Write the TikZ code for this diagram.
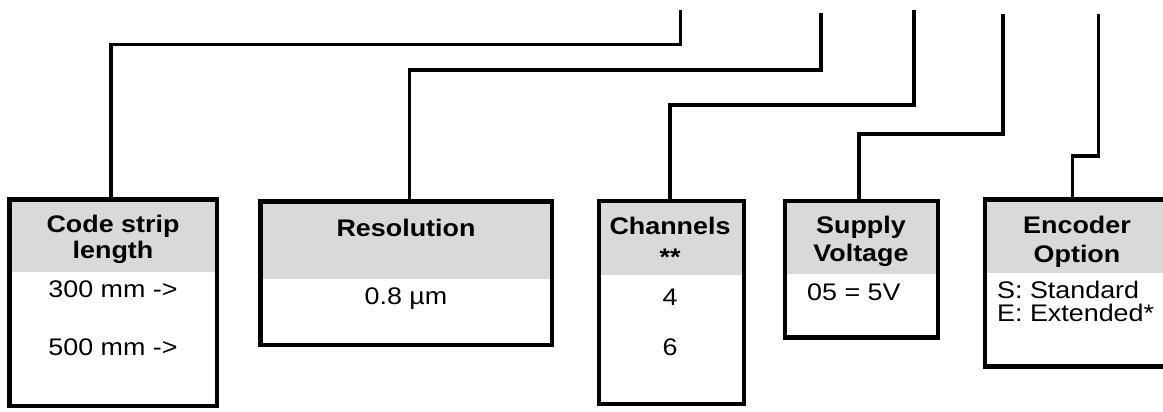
\documentclass[tikz,border=0pt]{standalone}
\usepackage{fontspec}
\setmainfont[FakeStretch=1.12]{Liberation Sans}
\usetikzlibrary{positioning}
\definecolor{headgray}{RGB}{217,217,217}
\tikzset{
	box/.style={draw, line width=4.5pt, inner sep=0pt,
		path picture={\fill[headgray] ([xshift=2.25pt,yshift=-2.25pt]path picture bounding box.north west) rectangle ([xshift=-2.25pt,yshift=-#1]path picture bounding box.north east);}},
	head/.style={font=\fontsize{24}{27}\selectfont\bfseries, inner sep=0pt, anchor=base},
	entry/.style={font=\fontsize{24}{27}\selectfont, inner sep=0pt, anchor=base},
	wire/.style={line width=3.6pt}
}
\begin{document}
\begin{tikzpicture}[x=1pt, y=-1pt]
	\useasboundingbox (0,0) rectangle (1163,412);
	% the five option boxes
	\node[box=72.5, minimum width=207.5, minimum height=206.5] (strip) at (113.25,302.75) {};
	\node[box=77.5, minimum width=291.5, minimum height=143.5] (res) at (406.25,273.25) {};
	\node[box=74, minimum width=145, minimum height=203] (chan) at (671.5,302.5) {};
	\node[box=73, minimum width=153, minimum height=136.5] (volt) at (861.5,269.25) {};
	\node[box=73.5, minimum width=185, minimum height=167] (enc) at (1077.5,283) {};
	% headings
	\node[head] (striphead1) at (113,232) {Code strip};
	\node[head] (striphead2) at (113,258.5) {length};
	\node[head] (reshead) at (406,236) {Resolution};
	\node[head] (chanhead1) at (670,234) {Channels};
	\node[head] (chanhead2) at (670,265) {**};
	\node[head] (volthead1) at (861,233) {Supply};
	\node[head] (volthead2) at (861,261) {Voltage};
	\node[head] (enchead1) at (1077,233) {Encoder};
	\node[head] (enchead2) at (1077,262) {Option};
	% values
	\node[entry] (stripval1) at (113,297) {300 mm ->};
	\node[entry] (stripval2) at (113,355) {500 mm ->};
	\node[entry] (resval) at (406,304) {0.8 µm};
	\node[entry] (chanval1) at (670,305) {4};
	\node[entry] (chanval2) at (670,355) {6};
	\node[entry, anchor=base west] (voltval) at (807,300) {05 = 5V};
	\node[entry, anchor=base west] (encval1) at (997,298) {S: Standard};
	\node[entry, anchor=base west] (encval2) at (997,321) {E: Extended*};
	% leads from the part number
	\coordinate (pin1) at (680.5,10);
	\coordinate (pin2) at (821,13);
	\coordinate (pin3) at (914,10);
	\coordinate (pin4) at (1003,14);
	\coordinate (pin5) at (1098.5,14);
	\draw[wire] (pin1) -- ++(0,34.5) -| ([xshift=-2pt]strip.north);
	\draw[wire] (pin2) -- ++(0,57) -| ([xshift=3.25pt]res.north);
	\draw[wire] (pin3) -- ++(0,95) -| ([xshift=-1.5pt]chan.north);
	\draw[wire] (pin4) -- ++(0,120) -| ([xshift=-2.5pt]volt.north);
	\draw[wire] (pin5) -- ++(0,142) -| ([xshift=-5pt]enc.north);
\end{tikzpicture}
\end{document}
